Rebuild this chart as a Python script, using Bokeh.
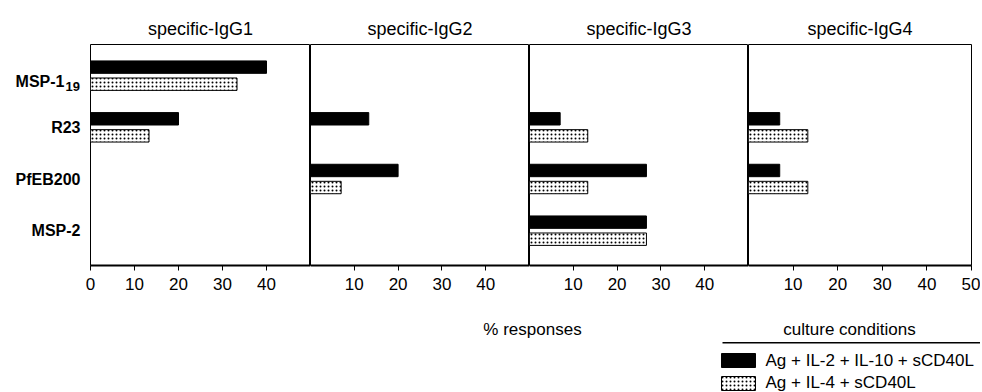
from bokeh.plotting import figure
from bokeh.models import Range1d, FixedTicker, Label, BoxAnnotation, ColumnDataSource
from bokeh.core.properties import value
from bokeh.layouts import row, column
from bokeh.embed import file_html
from bokeh.resources import INLINE

# ---------------- data ----------------
antigens = ["MSP-1", "R23", "PfEB200", "MSP-2"]
antigen_subscripts = ["19", "", "", ""]
subclasses = ["specific-IgG1", "specific-IgG2", "specific-IgG3", "specific-IgG4"]
series_names = ["Ag + IL-2 + IL-10 + sCD40L", "Ag + IL-4 + sCD40L"]
x_title = "% responses"
legend_title = "culture conditions"

# % responses, in the order of antigens above
igg1_il2_il10 = [40.0, 20.0, 0.0, 0.0]
igg1_il4 = [33.3, 13.3, 0.0, 0.0]
igg2_il2_il10 = [0.0, 13.3, 20.0, 0.0]
igg2_il4 = [0.0, 0.0, 7.0, 0.0]
igg3_il2_il10 = [0.0, 7.0, 26.7, 26.7]
igg3_il4 = [0.0, 13.3, 13.3, 26.7]
igg4_il2_il10 = [0.0, 7.0, 7.0, 0.0]
igg4_il4 = [0.0, 13.3, 13.3, 0.0]

x_ticks = [[0, 10, 20, 30, 40], [10, 20, 30, 40], [10, 20, 30, 40], [10, 20, 30, 40, 50]]

panel_data = [
    (igg1_il2_il10, igg1_il4),
    (igg2_il2_il10, igg2_il4),
    (igg3_il2_il10, igg3_il4),
    (igg4_il2_il10, igg4_il4),
]

FONT = "Liberation Sans"

# ---------------- layout ----------------
frame_w = [220, 219, 219, 223]
label_w = 82
first_left = 8
right_border = 9
top_border = 44
bottom_border = 30
frame_h = 221
fig_h = top_border + frame_h + bottom_border

y_range = Range1d(start=3.674, end=-0.603)  # categories top to bottom
dodge = 0.165
bar_h = 0.24

# --- category label column (shares the y scale of the panels) ---
pl = figure(
    width=label_w, height=fig_h, x_range=Range1d(0, label_w), y_range=y_range,
    x_axis_location=None, y_axis_location=None,
    output_backend="svg", toolbar_location=None,
    min_border_top=top_border, min_border_bottom=bottom_border,
    min_border_left=0, min_border_right=0, outline_line_color=None,
    background_fill_color="white", border_fill_color="white",
)
pl.grid.visible = False
plain = [(i, a) for i, (a, s) in enumerate(zip(antigens, antigen_subscripts)) if not s]
subbed = [(i, a, s) for i, (a, s) in enumerate(zip(antigens, antigen_subscripts)) if s]
pl.text(x=[80] * len(plain), y=[i for i, _ in plain], text=[a for _, a in plain],
        text_align="right", text_baseline="middle", text_font=value(FONT),
        text_font_size="16px", text_font_style="bold", text_color="black")
pl.text(x=[64] * len(subbed), y=[i for i, _, _ in subbed], text=[a for _, a, _ in subbed],
        y_offset=6, text_align="right", text_baseline="middle", text_font=value(FONT),
        text_font_size="16px", text_font_style="bold", text_color="black")
pl.text(x=[65] * len(subbed), y=[i for i, _, _ in subbed], text=[s for _, _, s in subbed],
        y_offset=11, text_align="left", text_baseline="middle", text_font=value(FONT),
        text_font_size="13px", text_font_style="bold", text_color="black")

figs = [pl]
for k in range(4):
    w = frame_w[k] + (first_left if k == 0 else 0) + (right_border if k == 3 else 0)
    p = figure(
        width=w, height=fig_h,
        x_range=Range1d(0, 50), y_range=y_range,
        output_backend="svg", toolbar_location=None,
        title=subclasses[k],
        y_axis_location=None,
        min_border_top=top_border, min_border_bottom=bottom_border,
        min_border_left=first_left if k == 0 else 0,
        min_border_right=right_border if k == 3 else 0,
        background_fill_color="white", border_fill_color="white",
    )
    p.grid.visible = False
    p.outline_line_color = "black"
    p.outline_line_width = 1
    p.outline_line_alpha = 1.0

    p.title.align = "center"
    p.title.text_font = FONT
    p.title.text_font_size = "18px"
    p.title.text_font_style = "normal"
    p.title.text_color = "black"
    p.title.standoff = 12

    ax = p.xaxis[0]
    ax.ticker = FixedTicker(ticks=x_ticks[k])
    ax.minor_tick_line_color = None
    ax.major_tick_in = 0
    ax.major_tick_out = 5
    ax.major_tick_line_color = "black"
    ax.axis_line_width = 2
    ax.axis_line_color = "black"
    ax.major_label_text_font = FONT
    ax.major_label_text_font_size = "17px"
    ax.major_label_text_color = "black"
    ax.major_label_standoff = 7

    a_vals, b_vals = panel_data[k]
    src_a = ColumnDataSource(dict(
        y=[i - dodge for i, v in enumerate(a_vals) if v > 0],
        v=[v for v in a_vals if v > 0]))
    src_b = ColumnDataSource(dict(
        y=[i + dodge for i, v in enumerate(b_vals) if v > 0],
        v=[v for v in b_vals if v > 0]))
    p.hbar(y="y", left=0, right="v", height=bar_h, source=src_a,
           fill_color="black", line_color="black", line_width=1)
    p.hbar(y="y", left=0, right="v", height=bar_h, source=src_b,
           fill_color="white", line_color="black", line_width=1,
           hatch_pattern="dot", hatch_color="black", hatch_scale=4, hatch_weight=1)
    figs.append(p)

total_w = sum(f.width for f in figs)

# bottom strip: axis title and legend (data units == page pixels)
top_y = fig_h
bottom_y = 392
pb = figure(
    width=total_w, height=bottom_y - top_y,
    x_range=Range1d(0, total_w), y_range=Range1d(bottom_y, top_y),
    x_axis_location=None, y_axis_location=None,
    output_backend="svg", toolbar_location=None,
    min_border=0, outline_line_color=None,
    background_fill_color="white", border_fill_color="white",
)
pb.grid.visible = False

pb.add_layout(Label(x=532, y=329, text=x_title, text_align="center",
                    text_baseline="middle", text_font=FONT, text_font_size="17px",
                    text_color="black"))
pb.add_layout(Label(x=849, y=329, text=legend_title, text_align="center",
                    text_baseline="middle", text_font=FONT, text_font_size="17px",
                    text_color="black"))
pb.add_layout(BoxAnnotation(left=722, right=980, top=341.5, bottom=343,
                            fill_color="black", fill_alpha=1, line_color=None))
pb.add_layout(BoxAnnotation(left=721, right=755, top=353, bottom=367,
                            fill_color="black", fill_alpha=1, line_color="black", line_alpha=1))
pb.add_layout(BoxAnnotation(left=721, right=755, top=376, bottom=390,
                            fill_color="white", fill_alpha=1, line_color="black", line_alpha=1,
                            hatch_pattern="dot", hatch_color="black", hatch_scale=4,
                            hatch_weight=1, hatch_alpha=1))
pb.add_layout(Label(x=765, y=360, text=series_names[0], text_align="left",
                    text_baseline="middle", text_font=FONT, text_font_size="17px",
                    text_color="black"))
pb.add_layout(Label(x=765, y=382, text=series_names[1], text_align="left",
                    text_baseline="middle", text_font=FONT, text_font_size="17px",
                    text_color="black"))

layout = column(row(*figs, spacing=0), pb, spacing=0)
open("out.html", "w").write(file_html(layout, INLINE))
